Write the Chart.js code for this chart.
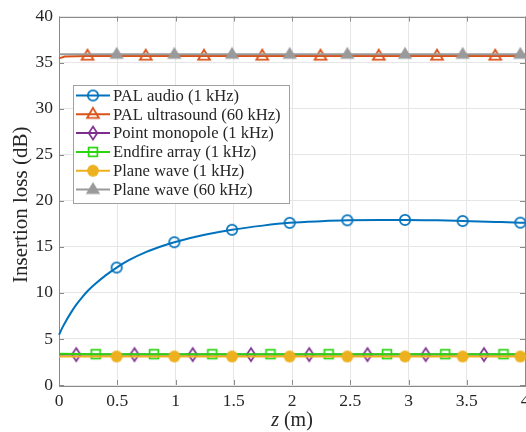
<!DOCTYPE html>
<html>
<head>
<meta charset="utf-8">
<script src="https://cdn.jsdelivr.net/npm/chart.js@4/dist/chart.umd.min.js"></script>
<style>
  html, body { margin: 0; padding: 0; background: #fff; overflow: hidden; width: 526px; height: 432px; }
  #wrap { width: 530px; height: 432px; position: relative; }
</style>
</head>
<body>
<div id="wrap"><canvas id="c" width="530" height="432"></canvas></div>
<script>
// ---- axis ticks ----
const zTicks = [0, 0.5, 1, 1.5, 2, 2.5, 3, 3.5, 4];
const zTickLabels = ['0', '0.5', '1', '1.5', '2', '2.5', '3', '3.5', '4'];
const ilTicks = [0, 5, 10, 15, 20, 25, 30, 35, 40];

// ---- PAL audio (1 kHz) ----
const palAudioZ  = [0, 0.03, 0.06, 0.1, 0.15, 0.2, 0.25, 0.3, 0.4, 0.495, 0.6, 0.75, 0.9, 0.99, 1.25, 1.485, 1.75, 1.98, 2.25, 2.475, 2.75, 2.97, 3.25, 3.465, 3.75, 3.96, 4];
const palAudioIL = [5.45, 6.25, 6.95, 7.8, 8.75, 9.55, 10.25, 10.85, 11.9, 12.75, 13.55, 14.45, 15.15, 15.5, 16.3, 16.85, 17.3, 17.6, 17.78, 17.88, 17.92, 17.92, 17.87, 17.8, 17.7, 17.62, 17.6];
const palAudioMarks = [0.495, 0.99, 1.485, 1.98, 2.475, 2.97, 3.465, 3.96];

// ---- PAL ultrasound (60 kHz) ----
const palUltraZ  = [0, 0.05, 0.245, 0.745, 1.245, 1.745, 2.245, 2.745, 3.245, 3.745, 4];
const palUltraIL = [35.45, 35.65, 35.7, 35.7, 35.7, 35.7, 35.7, 35.7, 35.7, 35.7, 35.7];
const palUltraMarks = [0.245, 0.745, 1.245, 1.745, 2.245, 2.745, 3.245, 3.745];

// ---- Point monopole (1 kHz) ----
const monopoleZ  = [0, 0.148, 0.648, 1.148, 1.648, 2.148, 2.648, 3.148, 3.648, 4];
const monopoleIL = [3.3, 3.3, 3.3, 3.3, 3.3, 3.3, 3.3, 3.3, 3.3, 3.3];
const monopoleMarks = [0.148, 0.648, 1.148, 1.648, 2.148, 2.648, 3.148, 3.648];

// ---- Endfire array (1 kHz) ----
const endfireZ  = [0, 0.315, 0.815, 1.315, 1.815, 2.315, 2.815, 3.315, 3.815, 4];
const endfireIL = [3.4, 3.35, 3.35, 3.35, 3.35, 3.35, 3.35, 3.35, 3.35, 3.35];
const endfireMarks = [0.315, 0.815, 1.315, 1.815, 2.315, 2.815, 3.315, 3.815];

// ---- Plane wave (1 kHz) ----
const plane1Z  = [0, 0.495, 0.99, 1.485, 1.98, 2.475, 2.97, 3.465, 3.96, 4];
const plane1IL = [3.1, 3.1, 3.1, 3.1, 3.1, 3.1, 3.1, 3.1, 3.1, 3.1];
const plane1Marks = [0.495, 0.99, 1.485, 1.98, 2.475, 2.97, 3.465, 3.96];

// ---- Plane wave (60 kHz) ----
const plane60Z  = [0, 0.495, 0.99, 1.485, 1.98, 2.475, 2.97, 3.465, 3.96, 4];
const plane60IL = [35.9, 35.9, 35.9, 35.9, 35.9, 35.9, 35.9, 35.9, 35.9, 35.9];
const plane60Marks = [0.495, 0.99, 1.485, 1.98, 2.475, 2.97, 3.465, 3.96];

const seriesNames = ['PAL audio (1 kHz)', 'PAL ultrasound (60 kHz)', 'Point monopole (1 kHz)',
                     'Endfire array (1 kHz)', 'Plane wave (1 kHz)', 'Plane wave (60 kHz)'];

const FONT = '"Liberation Serif", "Times New Roman", serif';
const TEXT = '#262626';

// ---- marker glyphs drawn once into small canvases ----
function marker(draw) {
  const c = document.createElement('canvas');
  c.width = 20; c.height = 20;
  const g = c.getContext('2d');
  g.translate(10, 10);
  g.lineJoin = 'miter';
  draw(g);
  return c;
}
const mkCircleOpen = (col) => marker(g => { g.beginPath(); g.arc(0, 0, 5.2, 0, Math.PI * 2); g.strokeStyle = col; g.lineWidth = 1.7; g.stroke(); });
const mkCircleFill = (col) => marker(g => { g.beginPath(); g.arc(0, 0, 5.9, 0, Math.PI * 2); g.fillStyle = col; g.fill(); });
const mkTriOpen = (col) => marker(g => { g.beginPath(); g.moveTo(0, -6.4); g.lineTo(5.9, 3.7); g.lineTo(-5.9, 3.7); g.closePath(); g.strokeStyle = col; g.lineWidth = 1.8; g.stroke(); });
const mkTriFill = (col) => marker(g => { g.beginPath(); g.moveTo(0, -7.6); g.lineTo(7.2, 4.5); g.lineTo(-7.2, 4.5); g.closePath(); g.fillStyle = col; g.fill(); });
const mkDiamond = (col) => marker(g => { g.beginPath(); g.moveTo(0, -6.5); g.lineTo(4.3, 0); g.lineTo(0, 6.5); g.lineTo(-4.3, 0); g.closePath(); g.strokeStyle = col; g.lineWidth = 1.7; g.stroke(); });
const mkSquare = (col) => marker(g => { g.strokeStyle = col; g.lineWidth = 1.7; g.strokeRect(-4.4, -4.4, 8.8, 8.8); });

const COLORS = ['#0072BD', '#D95319', '#7E2F8E', '#2BD40E', '#EDB120', '#9A9A9A'];
const glyphs = [
  mkCircleOpen(COLORS[0]), mkTriOpen(COLORS[1]), mkDiamond(COLORS[2]),
  mkSquare(COLORS[3]), mkCircleFill(COLORS[4]), mkTriFill(COLORS[5])
];

function pts(zs, ys) { return zs.map((z, i) => ({ x: z, y: ys[i] })); }
function markRadius(marks) {
  return (ctx) => {
    const p = ctx.raw;
    return (p && marks.indexOf(p.x) >= 0) ? 5 : 0;
  };
}

const sources = [
  [palAudioZ, palAudioIL, palAudioMarks],
  [palUltraZ, palUltraIL, palUltraMarks],
  [monopoleZ, monopoleIL, monopoleMarks],
  [endfireZ, endfireIL, endfireMarks],
  [plane1Z, plane1IL, plane1Marks],
  [plane60Z, plane60IL, plane60Marks]
];

const datasets = sources.map((s, i) => ({
  label: seriesNames[i],
  data: pts(s[0], s[1]),
  borderColor: COLORS[i],
  backgroundColor: COLORS[i],
  borderWidth: 2,
  pointStyle: glyphs[i],
  pointRadius: markRadius(s[2]),
  pointHoverRadius: markRadius(s[2]),
  tension: 0,
  cubicInterpolationMode: i === 0 ? 'monotone' : 'default',
  order: 5 - i,          // later series drawn on top
  clip: false
}));

// ---- frame: box, inward ticks, axis titles and legend ----
const framePlugin = {
  id: 'frame',
  beforeDatasetsDraw(chart) {
    const { ctx, chartArea: a, scales } = chart;
    ctx.save();
    ctx.strokeStyle = '#8a8a8a';
    ctx.lineWidth = 1;
    const L = 5;
    ctx.beginPath();
    zTicks.forEach(v => {
      const x = Math.round(scales.x.getPixelForValue(v)) + 0.5;
      ctx.moveTo(x, a.bottom); ctx.lineTo(x, a.bottom - L);
      ctx.moveTo(x, a.top); ctx.lineTo(x, a.top + L);
    });
    ilTicks.forEach(v => {
      const y = Math.round(scales.y.getPixelForValue(v)) + 0.5;
      ctx.moveTo(a.left, y); ctx.lineTo(a.left + L, y);
      ctx.moveTo(a.right, y); ctx.lineTo(a.right - L, y);
    });
    ctx.stroke();
    ctx.strokeRect(Math.round(a.left) + 0.5, Math.round(a.top) + 0.5,
                   Math.round(a.right - a.left), Math.round(a.bottom - a.top));
    ctx.restore();
  },
  afterDraw(chart) {
    const { ctx, chartArea: a } = chart;
    ctx.save();
    ctx.fillStyle = TEXT;
    // y title
    ctx.font = '21px ' + FONT;
    ctx.textAlign = 'center';
    ctx.textBaseline = 'middle';
    ctx.translate(21, (a.top + a.bottom) / 2 + 4);
    ctx.rotate(-Math.PI / 2);
    ctx.fillText('Insertion loss (dB)', 0, 0);
    ctx.restore();

    // x title: italic z followed by " (m)"
    ctx.save();
    ctx.fillStyle = TEXT;
    ctx.textBaseline = 'middle';
    ctx.textAlign = 'left';
    const fi = 'italic 20px ' + FONT, fn = '20px ' + FONT;
    ctx.font = fi; const wz = ctx.measureText('z').width;
    ctx.font = fn; const wr = ctx.measureText(' (m)').width;
    const cx = (a.left + a.right) / 2, xy = 421;
    const x0 = cx - (wz + wr) / 2;
    ctx.font = fi; ctx.fillText('z', x0, xy);
    ctx.font = fn; ctx.fillText(' (m)', x0 + wz, xy);
    ctx.restore();

    // legend
    ctx.save();
    const bx = 73.5, by = 85.5, bw = 216, bh = 118;
    ctx.fillStyle = '#fff';
    ctx.fillRect(bx, by, bw, bh);
    ctx.strokeStyle = '#a0a0a0';
    ctx.lineWidth = 1;
    ctx.strokeRect(bx, by, bw, bh);
    ctx.font = '16.6px ' + FONT;
    ctx.textBaseline = 'middle';
    ctx.textAlign = 'left';
    seriesNames.forEach((name, i) => {
      const y = 95.5 + i * 18.8;
      ctx.strokeStyle = COLORS[i];
      ctx.lineWidth = 2;
      ctx.beginPath(); ctx.moveTo(76, y); ctx.lineTo(110, y); ctx.stroke();
      ctx.drawImage(glyphs[i], 93 - 10, y - 10);
      ctx.fillStyle = TEXT;
      ctx.fillText(name, 113, y + 1);
    });
    ctx.restore();
  }
};

new Chart(document.getElementById('c'), {
  type: 'line',
  data: { datasets },
  options: {
    responsive: false,
    devicePixelRatio: 1,
    animation: false,
    events: [],
    layout: { padding: { top: 16.5, right: 0, bottom: 0, left: 0 } },
    plugins: { legend: { display: false }, tooltip: { enabled: false } },
    scales: {
      x: {
        type: 'linear',
        min: 0, max: 4,
        afterBuildTicks: (s) => { s.ticks = zTicks.map(v => ({ value: v })); },
        afterFit: (s) => { s.height = 47; s.paddingRight = 5; },
        ticks: {
          callback: (v, i) => zTickLabels[i],
          font: { family: FONT, size: 17.5 },
          color: TEXT,
          padding: 6,
          maxRotation: 0
        },
        grid: { color: '#e6e6e6', drawTicks: false },
        border: { display: false }
      },
      y: {
        type: 'linear',
        min: 0, max: 40,
        afterBuildTicks: (s) => { s.ticks = ilTicks.map(v => ({ value: v })); },
        afterFit: (s) => { s.width = 59; },
        ticks: {
          font: { family: FONT, size: 17.5 },
          color: TEXT,
          padding: 6
        },
        grid: { color: '#e6e6e6', drawTicks: false },
        border: { display: false }
      }
    }
  },
  plugins: [framePlugin]
});
</script>
</body>
</html>
